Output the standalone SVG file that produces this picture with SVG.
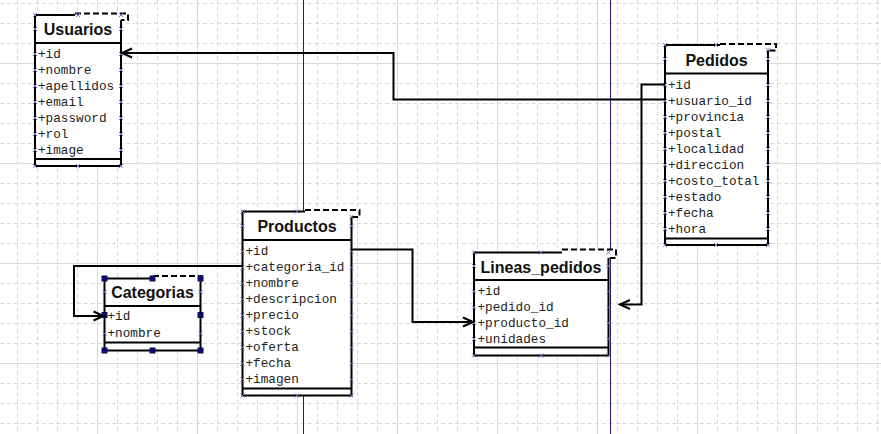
<svg xmlns="http://www.w3.org/2000/svg" xmlns:xlink="http://www.w3.org/1999/xlink" width="881" height="434" viewBox="0 0 881 434">
<style>
.gd{stroke:#d8d8d8;stroke-width:1;stroke-dasharray:4 3;fill:none}
.gs{stroke:#dadada;stroke-width:1;fill:none}
.page{stroke:#1e1e78;stroke-width:1;fill:none}
.box{fill:#ffffff;stroke:none}
.bd{fill:none;stroke:#000;stroke-width:2}
.tpl{fill:none;stroke:#000;stroke-width:2;stroke-dasharray:6 3}
.title{font-family:"Liberation Sans",Arial,sans-serif;font-weight:bold;font-size:16px;fill:#111;text-anchor:middle}
.attr{font-family:"Liberation Mono","Courier New",monospace;font-size:12.7px;fill:#222}
.conn{fill:none;stroke:#000;stroke-width:2}
.xm{stroke:#7676c4;stroke-width:1;fill:none}
.hd{fill:#0c0c64}
</style>
<defs>
<path id="xmk" class="xm" d="M-2,-2L2,2M2,-2L-2,2"/>
<marker id="arr" viewBox="-12 -6 14 12" refX="0" refY="0" markerWidth="14" markerHeight="12" markerUnits="userSpaceOnUse" orient="auto">
<path d="M-10,-4.5L0,0L-10,4.5" fill="none" stroke="#000" stroke-width="2"/>
</marker>
</defs>
<rect width="881" height="434" fill="#ffffff"/>
<g id="grid">
<path class="gd" d="M17.5,0V434M37.5,0V434M57.5,0V434M77.5,0V434M117.5,0V434M137.5,0V434M157.5,0V434M177.5,0V434M217.5,0V434M237.5,0V434M257.5,0V434M277.5,0V434M317.5,0V434M337.5,0V434M357.5,0V434M377.5,0V434M417.5,0V434M437.5,0V434M457.5,0V434M477.5,0V434M517.5,0V434M537.5,0V434M557.5,0V434M577.5,0V434M617.5,0V434M637.5,0V434M657.5,0V434M677.5,0V434M717.5,0V434M737.5,0V434M757.5,0V434M777.5,0V434M817.5,0V434M837.5,0V434M857.5,0V434M877.5,0V434"/>
<path class="gd" d="M0,3.5H881M0,23.5H881M0,43.5H881M0,83.5H881M0,103.5H881M0,123.5H881M0,143.5H881M0,183.5H881M0,203.5H881M0,223.5H881M0,243.5H881M0,283.5H881M0,303.5H881M0,323.5H881M0,343.5H881M0,383.5H881M0,403.5H881M0,423.5H881"/>
<path class="gs" d="M97.5,0V434M197.5,0V434M297.5,0V434M397.5,0V434M497.5,0V434M597.5,0V434M697.5,0V434M796.5,0V434M0,63.5H881M0,163.5H881M0,263.5H881M0,363.5H881"/>
<path class="page" d="M303.5,0V434M610.5,0V434"/>
</g>
<g id="usuarios">
<rect class="box" x="35" y="15" width="86" height="151"/>
<rect class="box" x="75" y="13.5" width="53" height="6.5"/>
<path class="bd" d="M75,15H35V166H121V20M35,43H121M35,159H121"/>
<path class="tpl" d="M75,13.5H128V20H121"/>
<text class="title" x="78" y="35">Usuarios</text>
<text class="attr" x="38" y="57.5">+id</text>
<text class="attr" x="38" y="73.5">+nombre</text>
<text class="attr" x="38" y="89.5">+apellidos</text>
<text class="attr" x="38" y="105.5">+email</text>
<text class="attr" x="38" y="121.5">+password</text>
<text class="attr" x="38" y="137.5">+rol</text>
<text class="attr" x="38" y="153.5">+image</text>
<g>
<use xlink:href="#xmk" x="35" y="15"/><use xlink:href="#xmk" x="78" y="15"/><use xlink:href="#xmk" x="121" y="15"/>
<use xlink:href="#xmk" x="35" y="29"/><use xlink:href="#xmk" x="121" y="29"/>
<use xlink:href="#xmk" x="35" y="54"/><use xlink:href="#xmk" x="121" y="54"/>
<use xlink:href="#xmk" x="35" y="70"/><use xlink:href="#xmk" x="121" y="70"/>
<use xlink:href="#xmk" x="35" y="86"/><use xlink:href="#xmk" x="121" y="86"/>
<use xlink:href="#xmk" x="35" y="102"/><use xlink:href="#xmk" x="121" y="102"/>
<use xlink:href="#xmk" x="35" y="118"/><use xlink:href="#xmk" x="121" y="118"/>
<use xlink:href="#xmk" x="35" y="134"/><use xlink:href="#xmk" x="121" y="134"/>
<use xlink:href="#xmk" x="35" y="150"/><use xlink:href="#xmk" x="121" y="150"/>
<use xlink:href="#xmk" x="35" y="166"/><use xlink:href="#xmk" x="78" y="166"/><use xlink:href="#xmk" x="121" y="166"/>
</g>
</g>
<g id="pedidos">
<rect class="box" x="665" y="45" width="103" height="200"/>
<rect class="box" x="720" y="44" width="56" height="6.5"/>
<path class="bd" d="M720,45H665V245H768V50.5M665,73.5H768M665,238.5H768"/>
<path class="tpl" d="M720,44H776V50.5H768"/>
<text class="title" x="716.5" y="65.5">Pedidos</text>
<text class="attr" x="668" y="88.5">+id</text>
<text class="attr" x="668" y="104.5">+usuario_id</text>
<text class="attr" x="668" y="120.5">+provincia</text>
<text class="attr" x="668" y="136.5">+postal</text>
<text class="attr" x="668" y="152.5">+localidad</text>
<text class="attr" x="668" y="168.5">+direccion</text>
<text class="attr" x="668" y="184.5">+costo_total</text>
<text class="attr" x="668" y="200.5">+estado</text>
<text class="attr" x="668" y="216.5">+fecha</text>
<text class="attr" x="668" y="232.5">+hora</text>
<g>
<use xlink:href="#xmk" x="665" y="45"/><use xlink:href="#xmk" x="716" y="45"/><use xlink:href="#xmk" x="768" y="50"/>
<use xlink:href="#xmk" x="665" y="59"/><use xlink:href="#xmk" x="768" y="59"/>
<use xlink:href="#xmk" x="665" y="85"/><use xlink:href="#xmk" x="768" y="85"/>
<use xlink:href="#xmk" x="665" y="101"/><use xlink:href="#xmk" x="768" y="101"/>
<use xlink:href="#xmk" x="665" y="117"/><use xlink:href="#xmk" x="768" y="117"/>
<use xlink:href="#xmk" x="665" y="133"/><use xlink:href="#xmk" x="768" y="133"/>
<use xlink:href="#xmk" x="665" y="149"/><use xlink:href="#xmk" x="768" y="149"/>
<use xlink:href="#xmk" x="665" y="165"/><use xlink:href="#xmk" x="768" y="165"/>
<use xlink:href="#xmk" x="665" y="181"/><use xlink:href="#xmk" x="768" y="181"/>
<use xlink:href="#xmk" x="665" y="197"/><use xlink:href="#xmk" x="768" y="197"/>
<use xlink:href="#xmk" x="665" y="213"/><use xlink:href="#xmk" x="768" y="213"/>
<use xlink:href="#xmk" x="665" y="229"/><use xlink:href="#xmk" x="768" y="229"/>
<use xlink:href="#xmk" x="665" y="245"/><use xlink:href="#xmk" x="716" y="245"/><use xlink:href="#xmk" x="768" y="245"/>
</g>
</g>
<g id="productos">
<rect class="box" x="242.5" y="211.5" width="109" height="184"/>
<rect class="box" x="305" y="210" width="54.5" height="7"/>
<path class="bd" d="M305,211.5H242.5V395.5H351.5V217M242.5,240H351.5M242.5,388.5H351.5"/>
<path class="tpl" d="M305,210H359.5V217H351.5"/>
<text class="title" x="297" y="231.5">Productos</text>
<text class="attr" x="245.5" y="255">+id</text>
<text class="attr" x="245.5" y="271">+categoria_id</text>
<text class="attr" x="245.5" y="287">+nombre</text>
<text class="attr" x="245.5" y="303">+descripcion</text>
<text class="attr" x="245.5" y="319">+precio</text>
<text class="attr" x="245.5" y="335">+stock</text>
<text class="attr" x="245.5" y="351">+oferta</text>
<text class="attr" x="245.5" y="367">+fecha</text>
<text class="attr" x="245.5" y="383">+imagen</text>
<g>
<use xlink:href="#xmk" x="242.5" y="211.5"/><use xlink:href="#xmk" x="297" y="211.5"/><use xlink:href="#xmk" x="351.5" y="217"/>
<use xlink:href="#xmk" x="242.5" y="226"/><use xlink:href="#xmk" x="351.5" y="226"/>
<use xlink:href="#xmk" x="242.5" y="251.5"/><use xlink:href="#xmk" x="351.5" y="251.5"/>
<use xlink:href="#xmk" x="242.5" y="267.5"/><use xlink:href="#xmk" x="351.5" y="267.5"/>
<use xlink:href="#xmk" x="242.5" y="283.5"/><use xlink:href="#xmk" x="351.5" y="283.5"/>
<use xlink:href="#xmk" x="242.5" y="299.5"/><use xlink:href="#xmk" x="351.5" y="299.5"/>
<use xlink:href="#xmk" x="242.5" y="315.5"/><use xlink:href="#xmk" x="351.5" y="315.5"/>
<use xlink:href="#xmk" x="242.5" y="331.5"/><use xlink:href="#xmk" x="351.5" y="331.5"/>
<use xlink:href="#xmk" x="242.5" y="347.5"/><use xlink:href="#xmk" x="351.5" y="347.5"/>
<use xlink:href="#xmk" x="242.5" y="363.5"/><use xlink:href="#xmk" x="351.5" y="363.5"/>
<use xlink:href="#xmk" x="242.5" y="379.5"/><use xlink:href="#xmk" x="351.5" y="379.5"/>
<use xlink:href="#xmk" x="242.5" y="395.5"/><use xlink:href="#xmk" x="297" y="395.5"/><use xlink:href="#xmk" x="351.5" y="395.5"/>
</g>
</g>
<g id="categorias">
<rect class="box" x="104.5" y="278.5" width="96" height="72"/>
<rect class="box" x="153" y="276" width="48.5" height="5.5"/>
<path class="bd" d="M153,278.5H104.5V350.5H200.5V281.5M104.5,306H200.5M104.5,342.5H200.5"/>
<path class="tpl" d="M153,276H201.5V281.5H200.5"/>
<text class="title" x="152.5" y="297.5">Categorias</text>
<text class="attr" x="107.5" y="320">+id</text>
<text class="attr" x="107.5" y="337">+nombre</text>
<g>
<use xlink:href="#xmk" x="104.5" y="292"/><use xlink:href="#xmk" x="200.5" y="292"/>
<use xlink:href="#xmk" x="104.5" y="333.5"/><use xlink:href="#xmk" x="200.5" y="333.5"/>
</g>
<g>
<rect class="hd" x="101.5" y="275.5" width="6" height="6"/>
<rect class="hd" x="149.5" y="275.5" width="6" height="6"/>
<rect class="hd" x="197.5" y="275.5" width="6" height="6"/>
<rect class="hd" x="101.5" y="312" width="6" height="6"/>
<rect class="hd" x="197.5" y="312" width="6" height="6"/>
<rect class="hd" x="101.5" y="347.5" width="6" height="6"/>
<rect class="hd" x="149.5" y="347.5" width="6" height="6"/>
<rect class="hd" x="197.5" y="347.5" width="6" height="6"/>
</g>
</g>
<g id="lineas_pedidos">
<rect class="box" x="474" y="252.5" width="134.5" height="103"/>
<rect class="box" x="562" y="249.5" width="54" height="8.5"/>
<path class="bd" d="M562,252.5H474V355.5H608.5V258M474,280H608.5M474,347.5H608.5"/>
<path class="tpl" d="M562,249.5H616V258H608.5"/>
<text class="title" x="541" y="272.5">Lineas_pedidos</text>
<text class="attr" x="477.5" y="295">+id</text>
<text class="attr" x="477.5" y="311">+pedido_id</text>
<text class="attr" x="477.5" y="326.5">+producto_id</text>
<text class="attr" x="477.5" y="342.5">+unidades</text>
<g>
<use xlink:href="#xmk" x="474" y="252.5"/><use xlink:href="#xmk" x="541" y="252.5"/><use xlink:href="#xmk" x="608.5" y="252.5"/>
<use xlink:href="#xmk" x="474" y="266"/><use xlink:href="#xmk" x="608.5" y="266"/>
<use xlink:href="#xmk" x="474" y="291.5"/><use xlink:href="#xmk" x="608.5" y="291.5"/>
<use xlink:href="#xmk" x="474" y="307.5"/><use xlink:href="#xmk" x="608.5" y="307.5"/>
<use xlink:href="#xmk" x="474" y="323"/><use xlink:href="#xmk" x="608.5" y="323"/>
<use xlink:href="#xmk" x="474" y="339"/><use xlink:href="#xmk" x="608.5" y="339"/>
<use xlink:href="#xmk" x="474" y="355.5"/><use xlink:href="#xmk" x="541" y="355.5"/><use xlink:href="#xmk" x="608.5" y="355.5"/>
</g>
</g>
<g id="connectors">
<path class="conn" d="M665,99.5H393.5V53H122" marker-end="url(#arr)"/>
<path class="conn" d="M665,84.5H641.5V304.5H620" marker-end="url(#arr)"/>
<path class="conn" d="M351.5,249.5H412.5V322H473" marker-end="url(#arr)"/>
<path class="conn" d="M242.5,266H74V316H103.5" marker-end="url(#arr)"/>
</g>
</svg>
